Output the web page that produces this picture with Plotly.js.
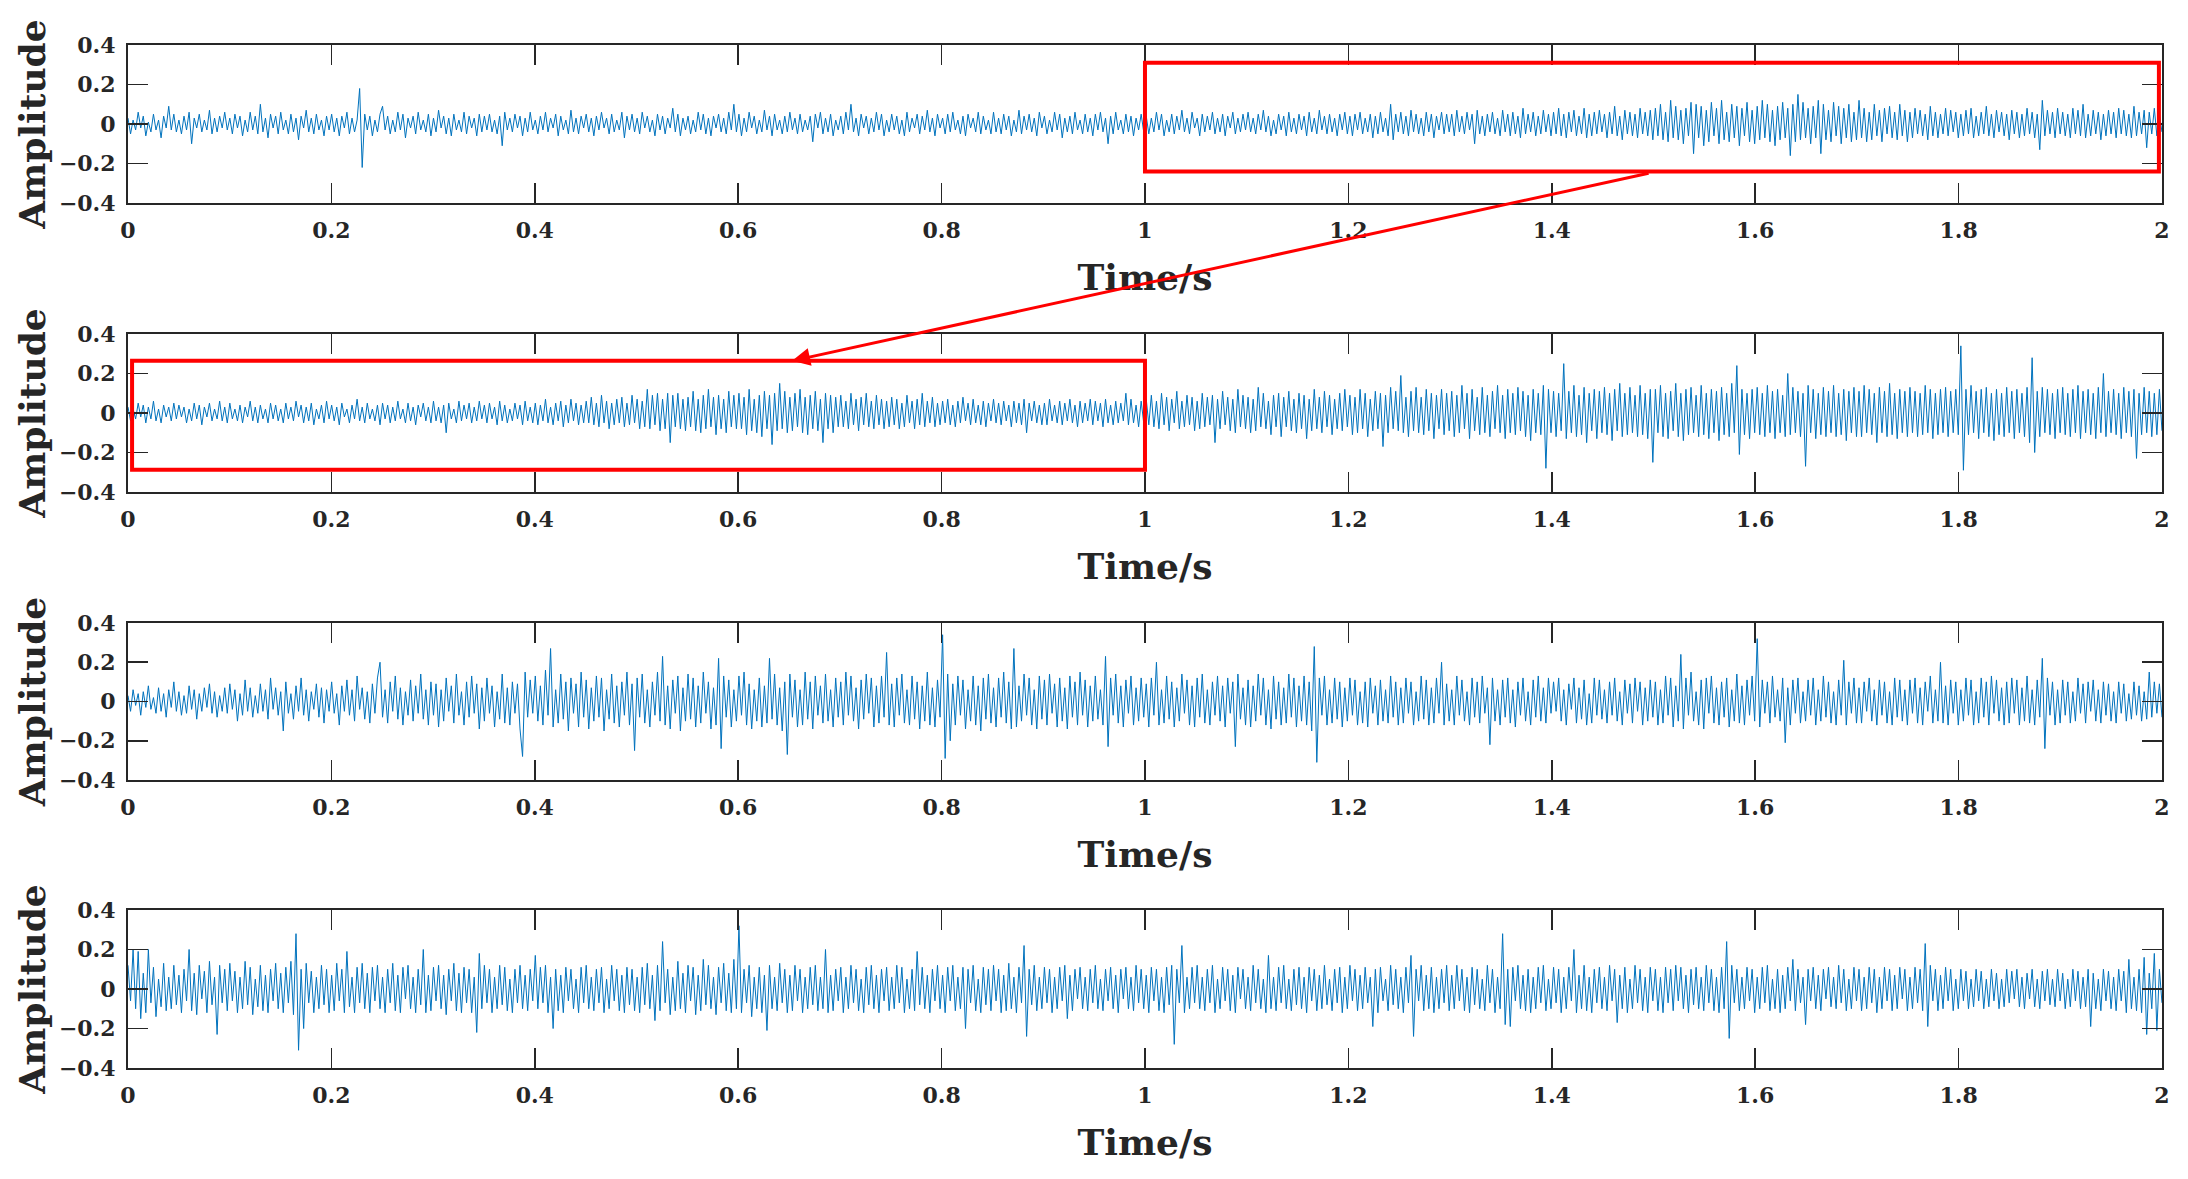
<!DOCTYPE html>
<html>
<head>
<meta charset="utf-8">
<script src="https://cdn.plot.ly/plotly-3.0.1.min.js"></script>
<style>html,body{margin:0;padding:0;background:#fff;}#chart{width:2188px;height:1179px;}</style>
</head>
<body>
<div id="chart"></div>
<script>
// Duration of each record (s)
const durationS = 2;

// Amplitude samples (uniformly spaced over 0..2 s)
const signal1 = [
0.03,-0.05,0.02,-0.03,0.06,-0.02,0.04,-0.06,0.01,-0.04,0.05,-0.03,0.02,-0.07,0.04,-0.02,0.09,-0.03,0.05,-0.04,
0.02,-0.05,0.04,-0.03,0.06,-0.1,0.03,-0.02,0.05,-0.04,0.02,-0.03,0.07,-0.05,0.03,-0.04,0.04,-0.02,0.06,-0.03,
0.03,-0.05,0.05,-0.02,0.04,-0.06,0.02,-0.04,0.06,-0.03,0.04,-0.05,0.1,-0.04,0.03,-0.07,0.05,-0.02,0.04,-0.05,
0.06,-0.03,0.02,-0.05,0.05,-0.04,0.03,-0.08,0.04,-0.02,0.07,-0.04,0.03,-0.05,0.05,-0.03,0.02,-0.06,0.04,-0.03,
0.05,-0.04,0.03,-0.06,0.04,-0.02,0.06,-0.05,0.03,-0.04,0.02,0.18,-0.22,0.05,-0.03,0.04,-0.06,0.02,-0.04,0.05,
0.09,-0.03,0.04,-0.05,0.02,-0.04,0.06,-0.03,0.05,-0.07,0.03,-0.02,0.04,-0.05,0.06,-0.03,0.02,-0.04,0.05,-0.06,
0.03,-0.04,0.07,-0.02,0.04,-0.05,0.03,-0.06,0.05,-0.03,0.02,-0.04,0.06,-0.05,0.04,-0.02,0.03,-0.06,0.05,-0.04,
0.04,-0.03,0.05,-0.04,0.02,-0.05,0.04,-0.11,0.06,-0.03,0.03,-0.04,0.05,-0.02,0.04,-0.06,0.03,-0.04,0.06,-0.03,
0.02,-0.05,0.04,-0.03,0.06,-0.04,0.03,-0.02,0.05,-0.06,0.04,-0.03,0.02,-0.05,0.07,-0.04,0.03,-0.05,0.04,-0.02,
0.05,-0.04,0.03,-0.06,0.04,-0.03,0.06,-0.02,0.03,-0.05,0.05,-0.04,0.02,-0.03,0.06,-0.07,0.04,-0.03,0.05,-0.04,
0.03,-0.05,0.06,-0.02,0.04,-0.04,0.02,-0.06,0.05,-0.03,0.04,-0.05,0.03,-0.02,0.08,-0.04,0.05,-0.06,0.03,-0.03,
0.04,-0.05,0.02,-0.04,0.06,-0.03,0.05,-0.05,0.03,-0.06,0.04,-0.02,0.05,-0.04,0.03,-0.05,0.06,-0.03,0.1,-0.04,
0.05,-0.06,0.03,-0.04,0.06,-0.02,0.04,-0.05,0.02,-0.04,0.07,-0.03,0.04,-0.06,0.05,-0.03,0.02,-0.05,0.04,-0.04,
0.06,-0.03,0.03,-0.05,0.05,-0.04,0.02,-0.03,0.04,-0.09,0.05,-0.02,0.06,-0.05,0.03,-0.04,0.05,-0.06,0.02,-0.03,
0.04,-0.05,0.06,-0.03,0.1,-0.04,0.03,-0.06,0.05,-0.02,0.04,-0.05,0.03,-0.04,0.06,-0.03,0.05,-0.06,0.02,-0.04,
0.05,-0.03,0.04,-0.05,0.02,-0.06,0.06,-0.04,0.03,-0.02,0.05,-0.05,0.04,-0.03,0.07,-0.04,0.03,-0.06,0.05,-0.02,
0.03,-0.05,0.05,-0.04,0.06,-0.03,0.02,-0.05,0.04,-0.06,0.05,-0.02,0.03,-0.04,0.06,-0.05,0.04,-0.03,0.02,-0.05,
0.06,-0.04,0.03,-0.05,0.05,-0.03,0.04,-0.06,0.02,-0.04,0.07,-0.05,0.04,-0.03,0.05,-0.04,0.03,-0.06,0.06,-0.02,
0.04,-0.05,0.02,-0.04,0.06,-0.03,0.05,-0.07,0.03,-0.04,0.04,-0.05,0.06,-0.03,0.02,-0.05,0.05,-0.04,0.03,-0.06,
0.05,-0.03,0.06,-0.04,0.03,-0.1,0.04,-0.05,0.06,-0.03,0.02,-0.05,0.05,-0.04,0.04,-0.06,0.03,-0.03,0.05,-0.04,
0.04,-0.05,0.03,-0.04,0.06,-0.03,0.05,-0.06,0.02,-0.04,0.05,-0.05,0.04,-0.03,0.07,-0.04,0.03,-0.05,0.06,-0.02,
0.03,-0.06,0.05,-0.04,0.04,-0.03,0.06,-0.05,0.03,-0.04,0.05,-0.06,0.04,-0.02,0.06,-0.05,0.03,-0.04,0.05,-0.03,
0.06,-0.04,0.03,-0.05,0.05,-0.03,0.07,-0.04,0.04,-0.06,0.02,-0.05,0.05,-0.03,0.04,-0.06,0.06,-0.04,0.03,-0.05,
0.05,-0.03,0.04,-0.06,0.06,-0.04,0.03,-0.05,0.07,-0.03,0.04,-0.05,0.05,-0.04,0.03,-0.06,0.05,-0.03,0.06,-0.05,
0.04,-0.06,0.05,-0.03,0.06,-0.05,0.03,-0.04,0.05,-0.07,0.04,-0.05,0.06,-0.04,0.03,-0.06,0.1,-0.08,0.05,-0.04,
0.06,-0.05,0.04,-0.06,0.07,-0.04,0.05,-0.05,0.03,-0.06,0.06,-0.04,0.05,-0.07,0.04,-0.03,0.06,-0.05,0.05,-0.04,
0.05,-0.06,0.07,-0.04,0.04,-0.05,0.06,-0.03,0.05,-0.1,0.07,-0.05,0.04,-0.06,0.05,-0.04,0.06,-0.05,0.03,-0.06,
0.07,-0.04,0.05,-0.06,0.06,-0.05,0.04,-0.07,0.08,-0.05,0.05,-0.04,0.06,-0.06,0.04,-0.05,0.07,-0.04,0.05,-0.06,
0.06,-0.05,0.08,-0.06,0.05,-0.07,0.06,-0.04,0.07,-0.06,0.04,-0.05,0.08,-0.07,0.05,-0.06,0.06,-0.05,0.07,-0.04,
0.05,-0.07,0.06,-0.05,0.09,-0.06,0.04,-0.08,0.07,-0.05,0.06,-0.06,0.05,-0.07,0.08,-0.05,0.06,-0.06,0.07,-0.08,
0.08,-0.06,0.1,-0.08,0.06,-0.09,0.12,-0.07,0.09,-0.08,0.07,-0.1,0.08,-0.06,0.11,-0.15,0.1,-0.07,0.09,-0.11,
0.07,-0.09,0.11,-0.06,0.08,-0.1,0.12,-0.08,0.06,-0.09,0.1,-0.07,0.09,-0.11,0.08,-0.06,0.11,-0.09,0.07,-0.1,
0.09,-0.08,0.12,-0.07,0.1,-0.09,0.07,-0.11,0.09,-0.08,0.11,-0.07,0.08,-0.16,0.1,-0.09,0.15,-0.08,0.11,-0.07,
0.08,-0.1,0.09,-0.07,0.12,-0.15,0.1,-0.08,0.07,-0.09,0.11,-0.06,0.09,-0.1,0.08,-0.07,0.1,-0.09,0.06,-0.08,
0.12,-0.07,0.08,-0.09,0.06,-0.08,0.1,-0.06,0.07,-0.09,0.08,-0.05,0.09,-0.07,0.06,-0.08,0.1,-0.06,0.07,-0.09,
0.06,-0.07,0.08,-0.05,0.07,-0.06,0.05,-0.08,0.09,-0.06,0.06,-0.07,0.05,-0.05,0.08,-0.06,0.07,-0.04,0.06,-0.07,
0.05,-0.06,0.07,-0.05,0.08,-0.07,0.04,-0.06,0.06,-0.05,0.09,-0.06,0.05,-0.07,0.07,-0.04,0.06,-0.06,0.05,-0.08,
0.07,-0.05,0.06,-0.07,0.05,-0.06,0.08,-0.05,0.06,-0.07,0.05,-0.13,0.12,-0.06,0.07,-0.05,0.06,-0.07,0.08,-0.05,
0.06,-0.06,0.05,-0.07,0.08,-0.05,0.07,-0.06,0.1,-0.07,0.05,-0.06,0.07,-0.05,0.06,-0.08,0.05,-0.06,0.07,-0.05,
0.06,-0.07,0.08,-0.05,0.07,-0.06,0.05,-0.07,0.09,-0.06,0.06,-0.05,0.07,-0.12,0.06,-0.05,0.08,-0.06,0.05,-0.04
];
const signal2 = [
0.03,-0.04,0.02,-0.03,0.05,-0.02,0.04,-0.05,0.03,-0.03,0.06,-0.04,0.02,-0.05,0.04,-0.02,0.03,-0.04,0.05,-0.03,
0.04,-0.02,0.03,-0.05,0.02,-0.04,0.05,-0.03,0.04,-0.06,0.03,-0.02,0.05,-0.04,0.02,-0.03,0.06,-0.04,0.03,-0.05,
0.05,-0.03,0.02,-0.04,0.04,-0.05,0.03,-0.02,0.06,-0.04,0.03,-0.05,0.04,-0.03,0.02,-0.05,0.05,-0.03,0.04,-0.04,
0.02,-0.05,0.05,-0.03,0.03,-0.04,0.06,-0.02,0.04,-0.05,0.03,-0.04,0.05,-0.06,0.02,-0.03,0.04,-0.05,0.06,-0.03,
0.04,-0.04,0.03,-0.06,0.05,-0.02,0.02,-0.05,0.04,-0.03,0.07,-0.04,0.03,-0.05,0.05,-0.03,0.02,-0.04,0.04,-0.06,
0.05,-0.03,0.04,-0.05,0.03,-0.04,0.06,-0.03,0.02,-0.05,0.05,-0.04,0.03,-0.06,0.04,-0.02,0.05,-0.04,0.03,-0.05,
0.06,-0.04,0.03,-0.05,0.04,-0.1,0.05,-0.03,0.02,-0.05,0.06,-0.04,0.04,-0.03,0.05,-0.05,0.03,-0.04,0.06,-0.03,
0.04,-0.05,0.05,-0.03,0.03,-0.06,0.06,-0.04,0.04,-0.05,0.02,-0.04,0.05,-0.03,0.04,-0.06,0.06,-0.04,0.03,-0.05,
0.05,-0.06,0.04,-0.04,0.07,-0.05,0.03,-0.06,0.05,-0.04,0.06,-0.07,0.04,-0.05,0.07,-0.04,0.05,-0.06,0.04,-0.05,
0.06,-0.05,0.08,-0.06,0.05,-0.07,0.09,-0.05,0.06,-0.08,0.05,-0.06,0.07,-0.05,0.08,-0.07,0.05,-0.06,0.09,-0.05,
0.07,-0.08,0.06,-0.07,0.12,-0.08,0.09,-0.06,0.1,-0.09,0.07,-0.08,0.1,-0.15,0.09,-0.07,0.1,-0.08,0.07,-0.09,
0.08,-0.07,0.11,-0.09,0.07,-0.1,0.09,-0.08,0.12,-0.07,0.08,-0.11,0.09,-0.08,0.07,-0.1,0.11,-0.07,0.09,-0.08,
0.1,-0.08,0.08,-0.11,0.12,-0.09,0.07,-0.1,0.09,-0.12,0.11,-0.08,0.09,-0.16,0.1,-0.09,0.15,-0.08,0.11,-0.1,
0.08,-0.09,0.1,-0.07,0.12,-0.1,0.08,-0.11,0.09,-0.08,0.11,-0.09,0.07,-0.15,0.1,-0.08,0.09,-0.1,0.08,-0.07,
0.09,-0.07,0.06,-0.08,0.1,-0.06,0.07,-0.09,0.08,-0.06,0.1,-0.07,0.06,-0.08,0.09,-0.06,0.07,-0.08,0.06,-0.07,
0.08,-0.06,0.07,-0.08,0.05,-0.07,0.09,-0.05,0.06,-0.08,0.07,-0.06,0.1,-0.07,0.06,-0.05,0.08,-0.07,0.05,-0.06,
0.06,-0.05,0.07,-0.06,0.04,-0.07,0.06,-0.05,0.08,-0.04,0.05,-0.06,0.07,-0.05,0.04,-0.06,0.06,-0.07,0.05,-0.04,
0.07,-0.05,0.05,-0.06,0.06,-0.04,0.04,-0.07,0.06,-0.05,0.05,-0.06,0.07,-0.1,0.05,-0.04,0.06,-0.05,0.04,-0.06,
0.05,-0.06,0.07,-0.04,0.04,-0.05,0.06,-0.06,0.05,-0.04,0.07,-0.05,0.04,-0.07,0.06,-0.05,0.05,-0.04,0.07,-0.06,
0.06,-0.04,0.05,-0.07,0.07,-0.05,0.04,-0.06,0.06,-0.05,0.05,-0.04,0.1,-0.06,0.07,-0.05,0.04,-0.07,0.06,-0.05,
0.07,-0.06,0.09,-0.07,0.06,-0.08,0.1,-0.06,0.08,-0.09,0.07,-0.05,0.11,-0.08,0.06,-0.07,0.09,-0.06,0.08,-0.09,
0.06,-0.08,0.1,-0.07,0.08,-0.06,0.09,-0.15,0.07,-0.08,0.11,-0.06,0.08,-0.09,0.07,-0.1,0.12,-0.07,0.09,-0.08,
0.08,-0.1,0.07,-0.09,0.13,-0.07,0.1,-0.08,0.06,-0.11,0.09,-0.07,0.1,-0.12,0.08,-0.07,0.11,-0.09,0.07,-0.1,
0.1,-0.08,0.09,-0.13,0.07,-0.09,0.12,-0.08,0.08,-0.1,0.11,-0.07,0.09,-0.11,0.07,-0.08,0.1,-0.09,0.12,-0.07,
0.09,-0.11,0.08,-0.1,0.12,-0.08,0.1,-0.12,0.07,-0.09,0.11,-0.08,0.1,-0.17,0.09,-0.1,0.13,-0.08,0.11,-0.09,
0.19,-0.1,0.08,-0.12,0.11,-0.09,0.13,-0.1,0.08,-0.11,0.12,-0.09,0.1,-0.13,0.09,-0.08,0.12,-0.11,0.1,-0.09,
0.11,-0.12,0.09,-0.1,0.14,-0.08,0.1,-0.13,0.12,-0.09,0.08,-0.11,0.13,-0.1,0.09,-0.12,0.11,-0.08,0.14,-0.1,
0.09,-0.13,0.12,-0.1,0.1,-0.11,0.13,-0.09,0.11,-0.12,0.09,-0.14,0.12,-0.1,0.1,-0.11,0.14,-0.28,0.12,-0.1,
0.11,-0.12,0.1,-0.09,0.25,-0.13,0.11,-0.1,0.14,-0.12,0.09,-0.11,0.13,-0.15,0.1,-0.09,0.12,-0.13,0.11,-0.1,
0.13,-0.11,0.1,-0.14,0.12,-0.09,0.15,-0.12,0.1,-0.11,0.13,-0.1,0.09,-0.12,0.14,-0.11,0.1,-0.13,0.12,-0.25,
0.12,-0.1,0.14,-0.12,0.1,-0.13,0.11,-0.09,0.15,-0.12,0.1,-0.14,0.12,-0.11,0.13,-0.1,0.09,-0.12,0.14,-0.11,
0.1,-0.13,0.12,-0.1,0.11,-0.14,0.13,-0.11,0.1,-0.12,0.15,-0.1,0.24,-0.21,0.12,-0.11,0.1,-0.13,0.12,-0.1,
0.13,-0.11,0.1,-0.12,0.14,-0.1,0.11,-0.13,0.12,-0.1,0.09,-0.12,0.2,-0.11,0.13,-0.1,0.11,-0.12,0.1,-0.27,
0.14,-0.1,0.12,-0.13,0.1,-0.11,0.13,-0.12,0.11,-0.1,0.14,-0.12,0.1,-0.11,0.12,-0.14,0.11,-0.1,0.13,-0.12,
0.11,-0.12,0.14,-0.1,0.12,-0.11,0.1,-0.15,0.13,-0.1,0.11,-0.12,0.15,-0.11,0.1,-0.13,0.12,-0.1,0.11,-0.12,
0.13,-0.1,0.11,-0.12,0.1,-0.11,0.14,-0.1,0.12,-0.13,0.1,-0.11,0.12,-0.1,0.13,-0.12,0.11,-0.1,0.12,-0.11,
0.34,-0.29,0.12,-0.11,0.14,-0.1,0.11,-0.13,0.12,-0.1,0.13,-0.12,0.1,-0.14,0.12,-0.11,0.1,-0.12,0.13,-0.1,
0.11,-0.13,0.12,-0.1,0.1,-0.12,0.13,-0.15,0.28,-0.2,0.11,-0.12,0.13,-0.1,0.12,-0.11,0.1,-0.13,0.12,-0.1,
0.13,-0.11,0.1,-0.12,0.12,-0.1,0.14,-0.13,0.11,-0.1,0.12,-0.11,0.1,-0.13,0.13,-0.1,0.2,-0.12,0.11,-0.1,
0.12,-0.11,0.1,-0.13,0.13,-0.1,0.11,-0.12,0.12,-0.23,0.1,-0.11,0.13,-0.1,0.11,-0.12,0.1,-0.11,0.12,-0.09
];
const signal3 = [
0.03,-0.05,0.06,-0.02,0.04,-0.07,0.05,-0.03,0.08,-0.04,0.02,-0.06,0.07,-0.05,0.04,-0.08,0.06,-0.03,0.1,-0.05,
0.05,-0.07,0.03,-0.06,0.08,-0.04,0.06,-0.09,0.04,-0.05,0.07,-0.03,0.09,-0.06,0.05,-0.08,0.03,-0.05,0.07,-0.06,
0.09,-0.04,0.06,-0.1,0.04,-0.07,0.11,-0.05,0.07,-0.08,0.03,-0.06,0.09,-0.05,0.06,-0.09,0.12,-0.04,0.07,-0.07,
0.05,-0.15,0.1,-0.06,0.04,-0.09,0.08,-0.05,0.12,-0.07,0.06,-0.1,0.05,-0.04,0.09,-0.08,0.07,-0.11,0.06,-0.05,
0.1,-0.06,0.04,-0.12,0.08,-0.05,0.11,-0.07,0.06,-0.1,0.13,-0.04,0.07,-0.09,0.05,-0.11,0.09,-0.06,0.12,0.2,
-0.08,0.06,-0.11,0.1,-0.05,0.13,-0.09,0.07,-0.12,0.05,-0.07,0.11,-0.1,0.08,-0.06,0.14,-0.09,0.06,-0.12,0.1,
-0.07,0.09,-0.13,0.06,-0.1,0.12,-0.05,0.08,-0.11,0.14,-0.07,0.05,-0.12,0.1,-0.08,0.13,-0.06,0.09,-0.14,0.07,
-0.1,0.12,-0.06,0.08,-0.13,0.05,-0.09,0.14,-0.11,0.07,-0.12,0.1,-0.06,0.09,-0.14,-0.28,0.15,-0.08,0.11,-0.06,
0.13,-0.1,0.08,-0.12,0.16,-0.07,0.27,-0.13,0.06,-0.11,0.14,-0.09,0.1,-0.15,0.12,-0.06,0.09,-0.13,0.15,-0.08,
0.11,-0.14,0.07,-0.1,0.13,-0.08,0.12,-0.15,0.06,-0.09,0.14,-0.11,0.08,-0.13,0.1,-0.07,0.15,-0.12,0.09,-0.25,
0.12,-0.08,0.14,-0.11,0.06,-0.13,0.1,-0.07,0.15,-0.1,0.23,-0.12,0.08,-0.14,0.11,-0.06,0.13,-0.15,0.07,-0.1,
0.14,-0.09,0.12,-0.13,0.08,-0.11,0.15,-0.06,0.1,-0.14,0.07,-0.12,0.22,-0.24,0.13,-0.08,0.11,-0.13,0.06,-0.1,
0.13,-0.07,0.15,-0.12,0.09,-0.14,0.06,-0.1,0.12,-0.13,0.08,-0.11,0.22,-0.09,0.14,-0.12,0.07,-0.15,0.1,-0.27,
0.14,-0.08,0.11,-0.13,0.06,-0.12,0.15,-0.09,0.1,-0.14,0.13,-0.07,0.08,-0.11,0.14,-0.1,0.06,-0.13,0.12,-0.08,
0.1,-0.12,0.15,-0.07,0.13,-0.1,0.07,-0.14,0.11,-0.09,0.14,-0.06,0.12,-0.13,0.08,-0.11,0.13,-0.08,0.25,-0.12,
0.09,-0.13,0.12,-0.07,0.14,-0.11,0.06,-0.12,0.13,-0.09,0.1,-0.14,0.08,-0.1,0.15,-0.12,0.07,-0.13,0.11,-0.08,
0.34,-0.29,0.14,-0.2,0.09,-0.12,0.13,-0.07,0.11,-0.14,0.06,-0.1,0.13,-0.12,0.08,-0.15,0.12,-0.09,0.14,-0.11,
0.07,-0.13,0.12,-0.08,0.15,-0.11,0.1,-0.14,0.27,-0.13,0.08,-0.1,0.14,-0.07,0.12,-0.12,0.06,-0.14,0.13,-0.09,
0.11,-0.12,0.14,-0.06,0.09,-0.13,0.12,-0.1,0.07,-0.14,0.13,-0.08,0.1,-0.12,0.15,-0.07,0.11,-0.13,0.08,-0.1,
0.13,-0.09,0.06,-0.12,0.23,-0.23,0.12,-0.07,0.14,-0.11,0.08,-0.13,0.11,-0.06,0.13,-0.12,0.07,-0.1,0.12,-0.08,
0.09,-0.13,0.12,-0.07,0.2,-0.12,0.06,-0.11,0.13,-0.09,0.1,-0.13,0.07,-0.1,0.14,-0.06,0.11,-0.12,0.08,-0.13,
0.12,-0.08,0.14,-0.11,0.06,-0.12,0.1,-0.07,0.13,-0.1,0.08,-0.13,0.12,-0.06,0.1,-0.23,0.14,-0.09,0.07,-0.12,
0.11,-0.13,0.08,-0.1,0.14,-0.07,0.12,-0.12,0.06,-0.14,0.13,-0.09,0.1,-0.12,0.07,-0.11,0.14,-0.08,0.12,-0.13,
0.08,-0.1,0.13,-0.12,0.1,-0.15,0.28,-0.31,0.12,-0.07,0.13,-0.12,0.06,-0.11,0.12,-0.09,0.1,-0.13,0.07,-0.1,
0.12,-0.07,0.11,-0.12,0.05,-0.11,0.1,-0.13,0.12,-0.06,0.08,-0.12,0.11,-0.1,0.06,-0.11,0.13,-0.08,0.1,-0.12,
0.07,-0.11,0.12,-0.06,0.1,-0.12,0.05,-0.1,0.13,-0.09,0.11,-0.12,0.07,-0.11,0.12,-0.06,0.2,-0.12,0.09,-0.1,
0.06,-0.12,0.13,-0.07,0.11,-0.1,0.05,-0.12,0.12,-0.08,0.1,-0.11,0.13,-0.06,0.07,-0.22,0.12,-0.1,0.06,-0.12,
0.11,-0.08,0.12,-0.11,0.06,-0.13,0.1,-0.07,0.12,-0.1,0.05,-0.12,0.11,-0.08,0.13,-0.1,0.07,-0.11,0.12,-0.06,
0.1,-0.05,0.12,-0.1,0.06,-0.12,0.09,-0.04,0.12,-0.11,0.07,-0.09,0.11,-0.12,0.04,-0.11,0.12,-0.07,0.11,-0.09,
0.06,-0.11,0.1,-0.07,0.12,-0.1,0.05,-0.12,0.11,-0.06,0.09,-0.11,0.12,-0.05,0.1,-0.12,0.07,-0.1,0.11,-0.08,
0.1,-0.12,0.06,-0.11,0.13,-0.07,0.12,-0.13,0.08,-0.1,0.24,-0.14,0.12,-0.07,0.15,-0.1,0.05,-0.12,0.11,-0.14,
0.12,-0.06,0.13,-0.11,0.07,-0.12,0.1,-0.08,0.12,-0.13,0.06,-0.1,0.14,-0.11,0.08,-0.12,0.11,-0.07,0.13,-0.1,
0.32,-0.13,0.11,-0.06,0.1,-0.11,0.13,-0.08,0.06,-0.1,0.12,-0.21,0.07,-0.12,0.11,-0.06,0.12,-0.11,0.05,-0.1,
0.11,-0.07,0.12,-0.12,0.06,-0.1,0.13,-0.08,0.1,-0.11,0.05,-0.12,0.11,-0.07,0.21,-0.12,0.1,-0.06,0.12,-0.11,
0.07,-0.11,0.1,-0.05,0.12,-0.1,0.06,-0.12,0.11,-0.07,0.1,-0.11,0.05,-0.12,0.12,-0.08,0.11,-0.1,0.06,-0.12,
0.11,-0.06,0.12,-0.11,0.07,-0.12,0.1,-0.05,0.13,-0.11,0.06,-0.1,0.2,-0.11,0.08,-0.12,0.11,-0.06,0.1,-0.12,
0.06,-0.1,0.12,-0.07,0.11,-0.12,0.05,-0.11,0.12,-0.08,0.1,-0.12,0.13,-0.06,0.11,-0.1,0.07,-0.12,0.1,-0.11,
0.12,-0.06,0.11,-0.12,0.07,-0.1,0.13,-0.11,0.06,-0.12,0.11,-0.08,0.22,-0.24,0.12,-0.07,0.1,-0.12,0.06,-0.11,
0.11,-0.07,0.1,-0.11,0.05,-0.1,0.12,-0.06,0.09,-0.11,0.1,-0.05,0.11,-0.1,0.06,-0.11,0.1,-0.07,0.09,-0.1,
0.05,-0.11,0.1,-0.06,0.09,-0.1,0.04,-0.09,0.1,-0.07,0.08,-0.1,0.05,-0.09,0.15,-0.08,0.1,-0.06,0.09,-0.08
];
const signal4 = [
0.12,-0.06,0.2,-0.1,0.19,-0.15,0.08,-0.12,0.2,-0.07,0.11,-0.14,0.05,-0.09,0.13,-0.11,0.06,-0.1,0.12,-0.08,
0.07,-0.12,0.1,-0.06,0.2,-0.11,0.08,-0.13,0.12,-0.05,0.09,-0.12,0.14,-0.08,0.06,-0.23,0.12,-0.07,0.1,-0.11,
0.13,-0.06,0.09,-0.12,0.06,-0.1,0.14,-0.08,0.11,-0.13,0.05,-0.09,0.12,-0.11,0.07,-0.12,0.1,-0.06,0.13,-0.1,
0.08,-0.12,0.11,-0.07,0.14,-0.13,0.28,-0.31,0.1,-0.2,0.13,-0.07,0.09,-0.12,0.06,-0.1,0.12,-0.08,0.1,-0.12,
0.07,-0.11,0.13,-0.06,0.1,-0.12,0.19,-0.09,0.06,-0.12,0.11,-0.07,0.13,-0.1,0.08,-0.12,0.11,-0.06,0.12,-0.1,
0.06,-0.12,0.1,-0.07,0.13,-0.11,0.07,-0.12,0.11,-0.05,0.12,-0.1,0.06,-0.12,0.1,-0.08,0.2,-0.12,0.07,-0.11,
0.11,-0.06,0.12,-0.1,0.07,-0.13,0.1,-0.06,0.13,-0.11,0.08,-0.12,0.11,-0.07,0.1,-0.12,0.06,-0.22,0.18,-0.1,
0.12,-0.07,0.1,-0.12,0.06,-0.1,0.12,-0.08,0.11,-0.11,0.05,-0.12,0.1,-0.07,0.12,-0.1,0.07,-0.11,0.1,-0.06,
0.17,-0.1,0.11,-0.07,0.12,-0.12,0.06,-0.2,0.1,-0.11,0.07,-0.12,0.11,-0.06,0.1,-0.1,0.05,-0.12,0.11,-0.07,
0.12,-0.1,0.06,-0.11,0.1,-0.07,0.11,-0.12,0.05,-0.1,0.12,-0.06,0.1,-0.11,0.07,-0.12,0.11,-0.08,0.1,-0.11,
0.06,-0.12,0.11,-0.08,0.13,-0.1,0.07,-0.16,0.12,-0.11,0.24,-0.07,0.1,-0.13,0.06,-0.11,0.14,-0.1,0.08,-0.12,
0.12,-0.06,0.11,-0.13,0.07,-0.11,0.15,-0.08,0.12,-0.1,0.06,-0.13,0.11,-0.07,0.13,-0.11,0.08,-0.12,0.15,-0.1,
0.32,-0.12,0.1,-0.07,0.12,-0.14,0.06,-0.1,0.11,-0.12,0.07,-0.21,0.12,-0.1,0.06,-0.11,0.13,-0.07,0.1,-0.12,
0.07,-0.11,0.12,-0.06,0.1,-0.12,0.06,-0.1,0.11,-0.08,0.12,-0.11,0.06,-0.1,0.2,-0.12,0.07,-0.11,0.1,-0.06,
0.11,-0.12,0.06,-0.1,0.12,-0.07,0.1,-0.11,0.05,-0.12,0.11,-0.08,0.12,-0.1,0.07,-0.12,0.1,-0.06,0.11,-0.11,
0.06,-0.1,0.12,-0.07,0.11,-0.12,0.05,-0.1,0.1,-0.11,0.19,-0.08,0.11,-0.1,0.07,-0.12,0.1,-0.06,0.12,-0.1,
0.07,-0.12,0.11,-0.06,0.12,-0.11,0.06,-0.1,0.11,-0.2,0.1,-0.07,0.12,-0.11,0.05,-0.12,0.11,-0.08,0.1,-0.11,
0.12,-0.06,0.1,-0.12,0.07,-0.11,0.13,-0.1,0.06,-0.12,0.11,-0.07,0.22,-0.24,0.1,-0.08,0.12,-0.11,0.06,-0.1,
0.11,-0.07,0.1,-0.12,0.06,-0.1,0.11,-0.06,0.12,-0.15,0.07,-0.11,0.1,-0.05,0.11,-0.1,0.06,-0.11,0.1,-0.07,
0.12,-0.1,0.05,-0.11,0.1,-0.06,0.11,-0.1,0.07,-0.12,0.1,-0.05,0.11,-0.1,0.06,-0.11,0.12,-0.07,0.1,-0.1,
0.07,-0.12,0.11,-0.06,0.1,-0.11,0.06,-0.12,0.11,-0.08,0.12,-0.28,0.1,-0.07,0.22,-0.12,0.06,-0.1,0.11,-0.07,
0.12,-0.1,0.06,-0.11,0.1,-0.07,0.12,-0.12,0.05,-0.1,0.11,-0.06,0.1,-0.11,0.07,-0.12,0.11,-0.05,0.1,-0.1,
0.06,-0.11,0.12,-0.07,0.1,-0.1,0.05,-0.12,0.17,-0.1,0.06,-0.11,0.11,-0.07,0.12,-0.1,0.05,-0.11,0.1,-0.08,
0.11,-0.1,0.06,-0.12,0.11,-0.06,0.1,-0.11,0.07,-0.1,0.12,-0.08,0.05,-0.11,0.1,-0.07,0.11,-0.12,0.06,-0.1,
0.12,-0.06,0.1,-0.11,0.07,-0.1,0.11,-0.07,0.06,-0.19,0.1,-0.12,0.11,-0.06,0.05,-0.11,0.12,-0.08,0.1,-0.1,
0.06,-0.12,0.11,-0.07,0.17,-0.24,0.1,-0.06,0.12,-0.11,0.07,-0.1,0.11,-0.12,0.06,-0.1,0.1,-0.07,0.12,-0.11,
0.07,-0.1,0.12,-0.06,0.1,-0.11,0.06,-0.12,0.11,-0.08,0.1,-0.1,0.05,-0.11,0.12,-0.07,0.1,-0.12,0.06,-0.1,
0.28,-0.18,0.1,-0.19,0.11,-0.06,0.12,-0.1,0.07,-0.11,0.1,-0.12,0.06,-0.1,0.11,-0.07,0.12,-0.11,0.05,-0.1,
0.11,-0.07,0.1,-0.12,0.06,-0.1,0.11,-0.06,0.2,-0.12,0.07,-0.1,0.12,-0.11,0.06,-0.12,0.1,-0.07,0.11,-0.1,
0.06,-0.11,0.12,-0.06,0.1,-0.17,0.07,-0.1,0.11,-0.12,0.05,-0.1,0.12,-0.07,0.1,-0.11,0.06,-0.12,0.11,-0.06,
0.1,-0.11,0.06,-0.12,0.11,-0.07,0.1,-0.11,0.12,-0.06,0.11,-0.1,0.07,-0.12,0.1,-0.08,0.11,-0.1,0.06,-0.11,
0.12,-0.07,0.1,-0.11,0.06,-0.12,0.11,-0.1,0.24,-0.25,0.12,-0.07,0.1,-0.11,0.06,-0.1,0.11,-0.06,0.1,-0.12,
0.06,-0.1,0.11,-0.07,0.12,-0.11,0.05,-0.1,0.1,-0.12,0.07,-0.1,0.11,-0.06,0.15,-0.11,0.1,-0.07,0.06,-0.18,
0.1,-0.06,0.11,-0.1,0.07,-0.11,0.1,-0.05,0.11,-0.09,0.06,-0.1,0.12,-0.07,0.1,-0.11,0.05,-0.1,0.11,-0.06,
0.1,-0.11,0.06,-0.1,0.11,-0.07,0.1,-0.12,0.06,-0.1,0.11,-0.06,0.1,-0.11,0.07,-0.1,0.11,-0.05,0.1,-0.11,
0.06,-0.1,0.11,-0.07,0.1,-0.11,0.23,-0.19,0.12,-0.06,0.1,-0.11,0.07,-0.1,0.11,-0.06,0.1,-0.11,0.05,-0.1,
0.1,-0.06,0.09,-0.1,0.05,-0.09,0.1,-0.06,0.09,-0.1,0.05,-0.09,0.1,-0.06,0.08,-0.1,0.05,-0.09,0.1,-0.07,
0.09,-0.05,0.1,-0.09,0.06,-0.1,0.08,-0.05,0.1,-0.09,0.05,-0.1,0.09,-0.06,0.1,-0.08,0.05,-0.09,0.1,-0.06,
0.08,-0.1,0.05,-0.09,0.1,-0.06,0.09,-0.1,0.06,-0.09,0.1,-0.19,0.08,-0.1,0.05,-0.11,0.1,-0.06,0.09,-0.1,
0.06,-0.11,0.1,-0.06,0.09,-0.12,0.15,-0.1,0.06,-0.11,0.1,-0.12,0.16,-0.23,0.08,-0.1,0.18,-0.21,0.1,-0.07
];

// Tick labels and titles
const xTickVals = [0, 0.2, 0.4, 0.6, 0.8, 1, 1.2, 1.4, 1.6, 1.8, 2];
const yTickVals = [-0.4, -0.2, 0, 0.2, 0.4];
const xTitle = 'Time/s';
const yTitle = 'Amplitude';

const signals = [signal1, signal2, signal3, signal4];

// ---- styling / layout ----
const FONT = 'DejaVu Serif';
const INK = '#262626';
const BLUE = '#0072BD';
const xDomain = [0.0585, 0.9881];
const yDomains = [[0.8278, 0.9618], [0.5827, 0.7167], [0.3384, 0.4716], [0.0941, 0.2282]];

const traces = signals.map((sig, k) => {
  const n = sig.length;
  const t = sig.map((_, i) => i * durationS / (n - 1));
  const s = k === 0 ? '' : String(k + 1);
  return {
    x: t, y: sig, type: 'scatter', mode: 'lines',
    line: {color: BLUE, width: 1},
    xaxis: 'x' + s, yaxis: 'y' + s,
    hoverinfo: 'skip', showlegend: false
  };
});

const layout = {
  width: 2188, height: 1179,
  margin: {l: 0, r: 0, t: 0, b: 0},
  paper_bgcolor: '#fff', plot_bgcolor: '#fff',
  showlegend: false,
  shapes: [], annotations: []
};

const tickFont = {family: FONT, size: 22, weight: 'bold', color: INK};
const titleFont = {family: FONT, size: 36, weight: 'bold', color: INK};

for (let k = 0; k < 4; k++) {
  const s = k === 0 ? '' : String(k + 1);
  layout['xaxis' + s] = {
    domain: xDomain, anchor: 'y' + s, range: [0, durationS],
    tickmode: 'array', tickvals: xTickVals,
    ticks: 'inside', ticklen: 20, tickwidth: 1.5, tickcolor: INK,
    showline: true, linewidth: 2, linecolor: INK, mirror: 'ticks',
    showgrid: false, zeroline: false, automargin: false,
    tickfont: tickFont, ticklabelstandoff: 7,
    title: {text: xTitle, font: titleFont, standoff: 22}
  };
  layout['yaxis' + s] = {
    domain: yDomains[k], anchor: 'x' + s, range: [-0.4, 0.4],
    tickmode: 'array', tickvals: yTickVals,
    ticks: 'inside', ticklen: 20, tickwidth: 1.5, tickcolor: INK,
    showline: true, linewidth: 2, linecolor: INK, mirror: 'ticks',
    showgrid: false, zeroline: false, automargin: false,
    tickfont: tickFont, ticklabelstandoff: 6,
    title: {text: yTitle, font: titleFont, standoff: 2}
  };
}

// Red zoom boxes and arrow
layout.shapes.push({type: 'rect', xref: 'x', yref: 'y', x0: 1.0, x1: 1.997, y0: -0.24, y1: 0.31,
  line: {color: '#FF0000', width: 4}, layer: 'above'});
layout.shapes.push({type: 'rect', xref: 'x2', yref: 'y2', x0: 0.004, x1: 1.0, y0: -0.287, y1: 0.264,
  line: {color: '#FF0000', width: 4}, layer: 'above'});
layout.annotations.push({xref: 'x2', yref: 'y2', x: 0.653, y: 0.264, text: '',
  showarrow: true, axref: 'pixel', ayref: 'pixel', ax: 858, ay: -188,
  arrowcolor: '#FF0000', arrowwidth: 3, arrowhead: 2, arrowsize: 1.2, standoff: 0});

Plotly.newPlot('chart', traces, layout, {staticPlot: true, displayModeBar: false});
</script>
</body>
</html>
